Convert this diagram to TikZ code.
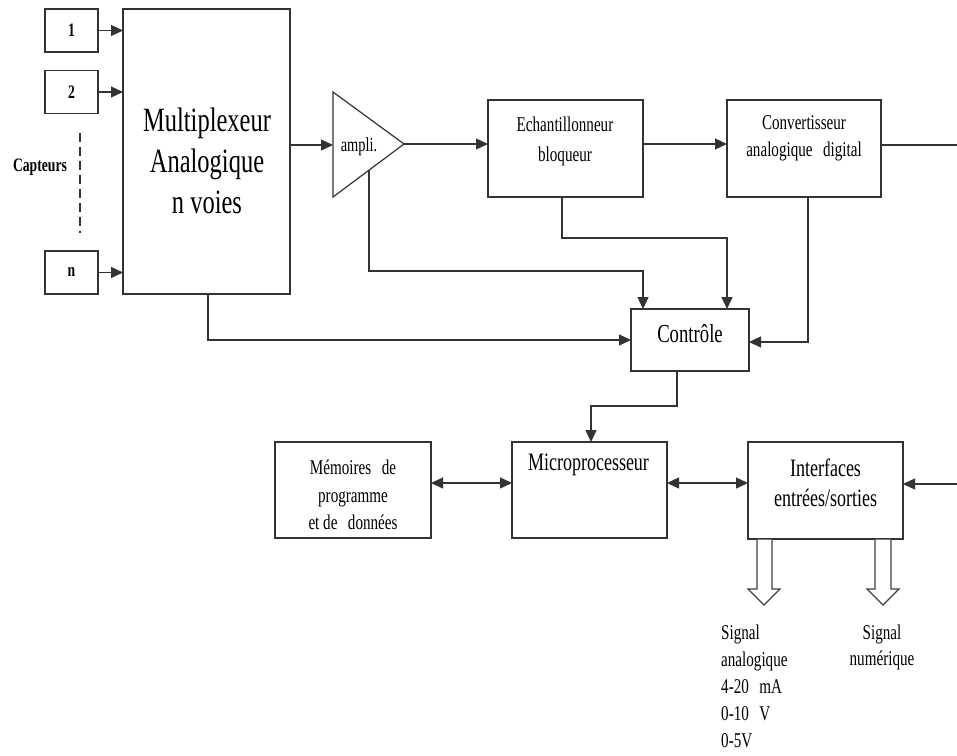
\documentclass[tikz,border=0pt]{standalone}
\usepackage{fontspec}
\setmainfont[FakeStretch=0.72]{Liberation Serif}
\usetikzlibrary{arrows.meta}
\newcommand{\fsz}[2]{\fontsize{#1}{#2}\selectfont}
\begin{document}
\begin{tikzpicture}[x=1pt,y=-1pt,
  wire/.style={draw=black!80, line width=1.3pt},
  flow/.style={wire, -{Triangle[length=12pt,width=11pt]}},
  both/.style={wire, {Triangle[length=12pt,width=11pt]}-{Triangle[length=12pt,width=11pt]}},
  blk/.style={draw=black!80, line width=1.2pt, rectangle, inner sep=0pt, outer sep=0pt},
  txt/.style={inner sep=0pt, align=center, text=black},
  sensor/.style={blk, minimum width=53pt, minimum height=43pt, font=\fsz{19}{22}\bfseries},
  hollow/.style={draw=black!75, line width=1.1pt, fill=white}
]
\useasboundingbox (0,0) rectangle (957,755);

% sensors
\node[sensor] (s1) at (71.5,30.5) {1};
\node[sensor] (s2) at (71.5,92) {2};
\node[sensor] (sn) at (71.5,272.5) {n};
\node[txt, font=\fsz{19}{22}\bfseries] (capt) at (40,167) {Capteurs};
\coordinate (dashA) at (80,133);
\coordinate (dashB) at (80,233);
\draw[wire, dash pattern=on 9pt off 5pt] (dashA) -- (dashB);

% multiplexer
\node[blk, minimum width=167pt, minimum height=285pt] (mux) at (206.5,151.5) {};
\node[txt, font=\fsz{34}{41}] (muxt) at (207,161) {Multiplexeur\\Analogique\\n voies};

\draw[flow] (s1.east) -- (s1.east -| mux.west);
\draw[flow] (s2.east) -- (s2.east -| mux.west);
\draw[flow] (sn.east) -- (sn.east -| mux.west);

% amplifier
\coordinate (ampT) at (333,92);
\coordinate (ampB) at (333,197);
\coordinate (ampTip) at (404,144);
\coordinate (ampIn) at (333,145);
\coordinate (ampCtl) at (369,170);
\draw[blk] (ampT) -- (ampTip) -- (ampB) -- cycle;
\node[txt, font=\fsz{20}{24}] (ampt) at (359,147) {ampli.};
\draw[flow] (mux.east |- ampIn) -- (ampIn);

% sample and hold, converter
\node[blk, minimum width=155pt, minimum height=97pt] (ech) at (565.5,148.5) {};
\node[txt, font=\fsz{21}{30}] (echt) at (565,141) {Echantillonneur\\bloqueur};
\node[blk, minimum width=154pt, minimum height=97pt] (conv) at (804,148.5) {};
\node[txt, font=\fsz{21}{27}] (convt) at (804,138.5) {Convertisseur\\analogique\enspace digital};

\draw[flow] (ampTip) -- (ampTip -| ech.west);
\draw[flow] (ech.east |- ampTip) -- (conv.west |- ampTip);
\coordinate (outR) at (957,145);
\draw[wire] (conv.east |- outR) -- (outR);

% control
\node[blk, minimum width=118pt, minimum height=62pt] (ctrl) at (690,340) {};
\node[txt, font=\fsz{26}{30}] (ctrlt) at (690,334) {Contrôle};

\draw[flow] ([xshift=4pt]conv.south) |- ([yshift=-2pt]ctrl.east);
\draw[flow] ([xshift=-3.5pt]ech.south) -- ++(0,41) -| ([xshift=37pt]ctrl.north);
\draw[flow] (ampCtl) -- ++(0,101) -| ([xshift=-47pt]ctrl.north);
\draw[flow] ([xshift=1.5pt]mux.south) |- (ctrl.west);

% processing blocks
\node[blk, minimum width=156pt, minimum height=96pt] (mem) at (353,490) {};
\node[txt, font=\fsz{21}{27.5}] (memt) at (353,495) {Mémoires\enspace de\\programme\\et de\enspace données};
\node[blk, minimum width=155pt, minimum height=96pt] (micro) at (589.5,490) {};
\node[txt, font=\fsz{25}{30}] (microt) at (588.5,465) {Microprocesseur};
\node[blk, minimum width=155pt, minimum height=97pt] (intf) at (825.5,490.5) {};
\node[txt, font=\fsz{25}{30}] (intft) at (825.5,483) {Interfaces\\entrées/sorties};

\draw[flow] ([xshift=-13pt]ctrl.south) -- ++(0,35) -| ([xshift=1.5pt]micro.north);
\draw[both] ([yshift=7pt]mem.east) -- ([yshift=7pt]micro.west);
\draw[both] ([yshift=7pt]micro.east) -- ([yshift=7pt]micro.east -| intf.west);
\coordinate (inR) at (957,484);
\draw[flow] (inR) -- (inR -| intf.east);

% outputs
\draw[hollow] (757,539.6) -- (757,589) -- (748,589) -- (764,605) -- (780,589) -- (772,589) -- (772,539.6);
\draw[hollow] (875,539.6) -- (875,589) -- (867,589) -- (883,605) -- (899,589) -- (891,589) -- (891,539.6);

\node[txt, align=left, anchor=north west, font=\fsz{21}{27}] (anat) at (721,625) {Signal\\analogique\\4-20\enspace mA\\0-10\enspace V\\0-5V};
\node[txt, anchor=north, font=\fsz{21}{26}] (numt) at (882,625) {Signal\\numérique};
\end{tikzpicture}
\end{document}
